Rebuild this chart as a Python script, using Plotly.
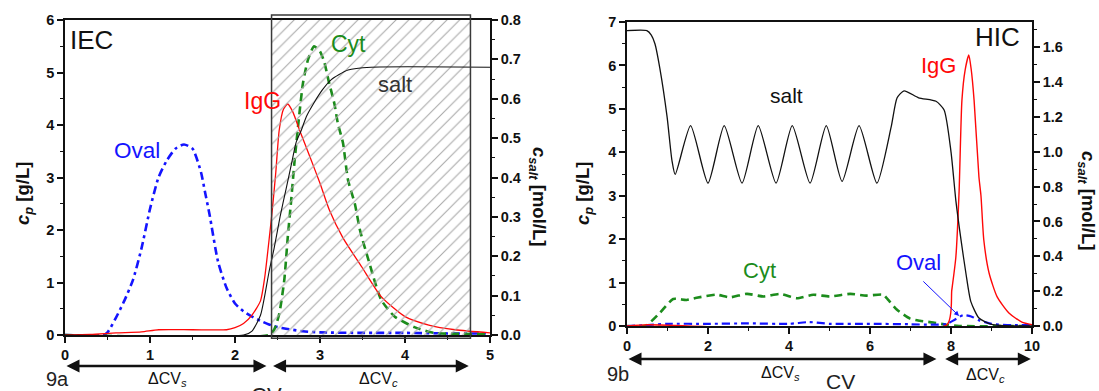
import plotly.graph_objects as go

# ---------------- data: IEC (panel 9a) ----------------
iec_oval_cv = [0, 0.45, 0.5, 0.6, 0.7, 0.8, 0.9, 1.0, 1.1, 1.2, 1.3, 1.4, 1.5, 1.6, 1.65, 1.7, 1.8, 1.9,
               2.0, 2.1, 2.2, 2.3, 2.4, 2.5, 2.6, 2.8, 3.0, 3.5, 4.0, 4.5, 5.0]
iec_oval = [0, 0, 0.05, 0.33, 0.66, 1.05, 1.65, 2.4, 3.0, 3.33, 3.55, 3.63, 3.55, 3.1, 2.7, 2.3, 1.4, 0.9,
            0.6, 0.45, 0.35, 0.27, 0.2, 0.15, 0.12, 0.07, 0.05, 0.04, 0.04, 0.03, 0.03]

iec_igg_cv = [0, 0.3, 0.6, 0.9, 1.1, 1.5, 1.9, 2.0, 2.1, 2.2, 2.3, 2.35, 2.4, 2.44, 2.48, 2.52, 2.57, 2.62,
              2.68, 2.76, 2.88, 3.0, 3.11, 3.27, 3.49, 3.72, 4.0, 4.28, 4.59, 5.0]
iec_igg = [0, 0.01, 0.04, 0.06, 0.1, 0.1, 0.1, 0.14, 0.22, 0.38, 0.65, 1.1, 1.8, 2.4, 3.1, 3.9, 4.3, 4.4,
           4.25, 3.9, 3.4, 2.89, 2.38, 1.85, 1.3, 0.73, 0.35, 0.19, 0.1, 0.04]

iec_cyt_cv = [0, 2.4, 2.46, 2.52, 2.58, 2.62, 2.66, 2.7, 2.75, 2.8, 2.86, 2.93, 3.0, 3.05, 3.1, 3.17, 3.21,
              3.27, 3.33, 3.41, 3.47, 3.57, 3.72, 3.88, 4.11, 4.35, 5.0]
iec_cyt = [0, 0, 0.1, 0.4, 1.05, 1.85, 2.55, 3.3, 4.1, 4.8, 5.25, 5.5, 5.4, 5.2, 4.85, 4.4, 4.03,
           3.66, 2.95, 2.5, 2.0, 1.43, 0.67, 0.35, 0.15, 0.04, 0.02]

iec_salt_cv = [0, 2.1, 2.2, 2.3, 2.35, 2.4, 2.46, 2.53, 2.6, 2.66, 2.72, 2.78, 2.84, 2.93, 3.03, 3.13,
               3.33, 3.6, 5.0]
iec_salt = [0, 0, 0.01, 0.05, 0.1, 0.16, 0.22, 0.3, 0.37, 0.43, 0.49, 0.52, 0.555, 0.59, 0.623, 0.648,
            0.673, 0.68, 0.68]

iec_window_cv = [2.43, 4.77]      # hatched elution window
iec_dcv_s = [0, 2.37]
iec_dcv_c = [2.43, 4.75]

# ---------------- data: HIC (panel 9b) ----------------
hic_salt_cv = [0, 0.49, 0.6, 0.69, 0.81, 0.99, 1.11, 1.19, 1.57, 2.0, 2.4, 2.84, 3.24, 3.68, 4.08, 4.52,
               4.92, 5.31, 5.73, 6.17, 6.52, 6.67, 6.84, 7.2, 7.63, 7.83, 8.0, 8.12, 8.25, 8.37, 8.49,
               8.69, 9.0, 10]
hic_salt = [1.695, 1.695, 1.67, 1.62, 1.48, 1.2, 0.95, 0.87, 1.15, 0.82, 1.15, 0.82, 1.15, 0.82, 1.15, 0.82,
            1.15, 0.83, 1.15, 0.82, 1.14, 1.31, 1.35, 1.31, 1.29, 1.24, 1.0, 0.72, 0.49, 0.3, 0.14,
            0.046, 0.01, 0.0]

hic_cyt_cv = [0, 0.45, 0.81, 1.14, 1.47, 1.72, 2.21, 2.54, 2.96, 3.37, 3.78, 4.19, 4.6, 5.01, 5.51, 5.91,
              6.33, 6.45, 6.66, 6.99, 7.23, 7.56, 7.88, 8.2, 10]
hic_cyt = [0, 0, 0.3, 0.62, 0.6, 0.65, 0.72, 0.66, 0.74, 0.68, 0.74, 0.64, 0.72, 0.68, 0.74, 0.7,
           0.72, 0.6, 0.38, 0.17, 0.12, 0.08, 0.03, 0.0, 0.0]

hic_oval_cv = [0, 0.5, 1, 2, 3, 4, 4.5, 5, 6, 7, 7.5, 7.9, 8.1, 8.3, 8.5, 8.7, 9.0, 9.5, 10]
hic_oval = [0.0, 0.02, 0.05, 0.05, 0.06, 0.05, 0.09, 0.05, 0.05, 0.04, 0.03, 0.05, 0.15, 0.25, 0.22,
            0.13, 0.05, 0.02, 0.02]

hic_igg_cv = [0, 0.5, 7.9, 8.02, 8.12, 8.2, 8.27, 8.35, 8.44, 8.5, 8.57, 8.69, 8.74, 8.81, 8.94, 9.14,
              9.43, 9.75, 10]
hic_igg = [0, 0.03, 0.03, 0.83, 1.59, 3.1, 5.2, 5.9, 6.24, 5.9, 5.2, 3.43, 3.0, 1.98, 1.22, 0.67,
           0.3, 0.09, 0.03]

hic_dcv_s = [0, 7.64]
hic_dcv_c = [7.82, 9.97]

# ---------------- styling ----------------
W, H = 1099, 391
FONT = "Liberation Sans, Arial, sans-serif"
BLUE, RED, GREEN, BLACK = "#1414ff", "#ff0808", "#1c8c1c", "#111111"

fig = go.Figure()

def line(x, y, color, width, dash, xa, ya, shape="spline"):
    fig.add_trace(go.Scatter(x=x, y=y, xaxis=xa, yaxis=ya, mode="lines", showlegend=False,
                             line=dict(color=color, width=width, dash=dash, shape=shape, smoothing=0.6),
                             hoverinfo="skip"))

# IEC panel
line(iec_salt_cv, iec_salt, BLACK, 1.1, "solid", "x", "y2")
line(iec_oval_cv, iec_oval, BLUE, 2.6, "8px,4px,3px,4px", "x", "y")
line(iec_cyt_cv, iec_cyt, GREEN, 2.6, "8px,5px", "x", "y")
line(iec_igg_cv, iec_igg, RED, 1.3, "solid", "x", "y")

# hatched window
wx0, wx1 = iec_window_cv
fig.add_trace(go.Scatter(x=[wx0, wx1, wx1, wx0, wx0], y=[0, 0, 6, 6, 0], xaxis="x", yaxis="y",
                         mode="lines", fill="toself", fillcolor="rgba(0,0,0,0)",
                         fillpattern=dict(shape="/", fgcolor="#a8a8a8", bgcolor="rgba(0,0,0,0)",
                                          size=9, solidity=0.12),
                         line=dict(width=0), showlegend=False, hoverinfo="skip"))

# HIC panel
line(hic_salt_cv, hic_salt, BLACK, 1.3, "solid", "x2", "y4")
line(hic_cyt_cv, hic_cyt, GREEN, 2.6, "8px,5px", "x2", "y3")
line(hic_oval_cv, hic_oval, BLUE, 2.2, "8px,4px,3px,4px", "x2", "y3")
line(hic_igg_cv, hic_igg, RED, 1.4, "solid", "x2", "y3")

def axis(**kw):
    base = dict(showline=True, linecolor=BLACK, linewidth=1.6, ticks="outside", ticklen=6,
                tickwidth=1.5, tickcolor=BLACK, showgrid=False, zeroline=False, automargin=False,
                tickfont=dict(family=FONT, size=14.5, color=BLACK, weight="bold"))
    base.update(kw)
    return base

def minor(d):
    return dict(ticks="outside", ticklen=3.5, tickwidth=1.2, tickcolor=BLACK, dtick=d, showgrid=False)

fig.update_layout(
    template="none",
    width=W, height=H, autosize=False, margin=dict(l=0, r=0, t=0, b=0, pad=0),
    paper_bgcolor="white", plot_bgcolor="white", showlegend=False,
    font=dict(family=FONT, color=BLACK),
    xaxis=axis(domain=[65 / W, 490 / W], range=[0, 5], dtick=1, minor=minor(0.5), mirror=True, anchor="y"),
    yaxis=axis(domain=[1 - 335 / H, 1 - 20 / H], range=[0, 6], dtick=1, minor=minor(0.5), anchor="x"),
    yaxis2=axis(overlaying="y", side="right", anchor="x", range=[0, 0.8], dtick=0.1,
                minor=minor(0.05), tickformat=".1f"),
    xaxis2=axis(domain=[627 / W, 1032 / W], range=[0, 10], dtick=2, minor=minor(1), mirror=True, anchor="y3"),
    yaxis3=axis(domain=[1 - 326 / H, 1 - 22 / H], range=[0, 7], dtick=1, minor=minor(0.5), anchor="x2"),
    yaxis4=axis(overlaying="y3", side="right", anchor="x2", range=[0, 1.745], dtick=0.2,
                minor=minor(0.1), tickformat=".1f"),
)

# window border
fig.add_shape(type="rect", xref="x", yref="y domain", x0=wx0, x1=wx1, y0=-0.01, y1=1.016,
              line=dict(color="#3a3a3a", width=1.5), fillcolor="rgba(0,0,0,0)", layer="above")

ann = []

def text(t, x, y, xref, yref, size, color=BLACK, xanchor="center", yanchor="middle", **kw):
    ann.append(dict(text=t, x=x, y=y, xref=xref, yref=yref, showarrow=False,
                    xanchor=xanchor, yanchor=yanchor,
                    font=dict(family=FONT, size=size, color=color), **kw))

# curve labels
text("IEC", 0.008, 0.99, "x domain", "y domain", 26, xanchor="left", yanchor="top")
text("Oval", 0.85, 3.52, "x", "y", 22.5, BLUE)
text("IgG", 2.32, 4.46, "x", "y", 23, RED)
text("Cyt", 3.33, 5.54, "x", "y", 23, GREEN)
text("salt", 3.88, 4.78, "x", "y", 22, "#333333")

text("HIC", 9.14, 6.66, "x2", "y3", 26)
text("IgG", 7.7, 5.99, "x2", "y3", 22, RED)
text("salt", 3.95, 5.3, "x2", "y3", 21)
text("Cyt", 3.28, 1.27, "x2", "y3", 22, GREEN)
text("Oval", 7.19, 1.47, "x2", "y3", 22, BLUE)
ann.append(dict(text="", x=8.2, y=0.23, xref="x2", yref="y3", ax=7.28, ay=1.06, axref="x2", ayref="y3",
                xanchor="center", yanchor="middle",
                showarrow=True, arrowhead=2, arrowsize=1, arrowwidth=1, arrowcolor=BLUE))

# axis titles
cp = "<b><i>c</i><sub><i>p</i></sub> [g/L]</b>"
cs = "<b><i>c</i><sub><i>salt</i></sub> [mol/L]</b>"
text(cp, 24 / W, 1 - 194 / H, "paper", "paper", 18.5, textangle=-90)
text(cs, 538 / W, 1 - 196 / H, "paper", "paper", 18.5, textangle=90)
text(cp, 584 / W, 1 - 194 / H, "paper", "paper", 18.5, textangle=-90)
text(cs, 1087 / W, 1 - 200 / H, "paper", "paper", 18.5, textangle=90)

# delta-CV arrows
def darrow(rng, xref, ypix):
    ann.append(dict(text="", x=rng[1], y=1 - ypix / H, xref=xref, yref="paper",
                    ax=rng[0], ay=0, axref=xref, ayref="pixel", showarrow=True,
                    xanchor="center", yanchor="middle",
                    arrowhead=2, startarrowhead=2, arrowside="end+start", arrowsize=1,
                    startarrowsize=1, arrowwidth=2.6, arrowcolor=BLACK))

darrow(iec_dcv_s, "x", 366)
darrow(iec_dcv_c, "x", 366)
darrow(hic_dcv_s, "x2", 359)
darrow(hic_dcv_c, "x2", 359)

text("9a", 57 / W, 1 - 379 / H, "paper", "paper", 20, color="#222222")
text("ΔCV<sub><i>s</i></sub>", 167 / W, 1 - 379 / H, "paper", "paper", 16)
text("ΔCV<sub><i>c</i></sub>", 378 / W, 1 - 379 / H, "paper", "paper", 16)
text("CV", 266 / W, 1 - 395 / H, "paper", "paper", 22, color="#222222")
text("9b", 618 / W, 1 - 374 / H, "paper", "paper", 20, color="#222222")
text("ΔCV<sub><i>s</i></sub>", 780 / W, 1 - 373 / H, "paper", "paper", 16)
text("CV", 840 / W, 1 - 381 / H, "paper", "paper", 21, color="#222222")
text("ΔCV<sub><i>c</i></sub>", 985 / W, 1 - 375 / H, "paper", "paper", 16)

fig.update_layout(annotations=ann)
fig.write_html("out.html")
